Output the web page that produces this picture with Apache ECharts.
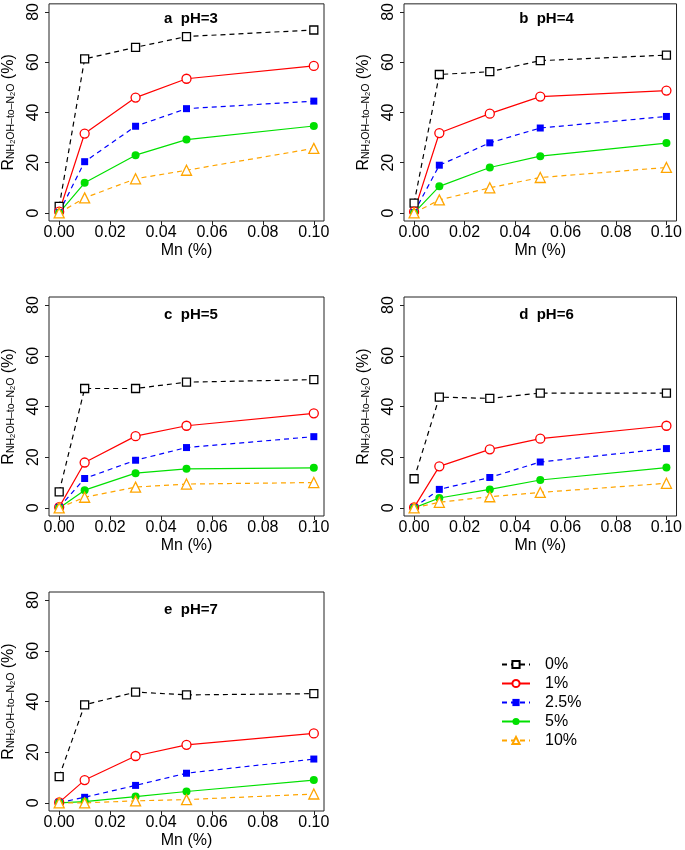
<!DOCTYPE html>
<html>
<head>
<meta charset="utf-8">
<script src="https://cdn.jsdelivr.net/npm/echarts@6/dist/echarts.min.js"></script>
<style>html,body{margin:0;padding:0;background:#fff}#c{width:685px;height:850px}</style>
</head>
<body>
<div id="c"></div>
<script>
// Mn levels (x values)
const mnLevels = [0, 0.01, 0.03, 0.05, 0.10];
const seriesNames = ['0%', '1%', '2.5%', '5%', '10%'];
const xTicks = [0, 0.02, 0.04, 0.06, 0.08, 0.10];
const yTicks = [0, 20, 40, 60, 80];
const panelTitles = ['a  pH=3', 'b  pH=4', 'c  pH=5', 'd  pH=6', 'e  pH=7'];

// Rows follow seriesNames order: 0%, 1%, 2.5%, 5%, 10%
const pH3 = [
  [2.6, 61.3, 65.9, 70.2, 72.8],
  [0.5, 31.6, 45.9, 53.4, 58.5],
  [0.2, 20.4, 34.5, 41.5, 44.5],
  [0.0, 12.0, 23.0, 29.2, 34.6],
  [0.0, 6.0, 13.6, 17.0, 25.7]
];
const pH4 = [
  [3.9, 55.1, 56.2, 60.6, 62.8],
  [0.5, 31.8, 39.5, 46.3, 48.7],
  [0.2, 19.0, 27.9, 33.8, 38.4],
  [0.0, 10.6, 18.1, 22.6, 27.8],
  [0.0, 5.2, 10.0, 14.1, 18.1]
];
const pH5 = [
  [6.3, 47.1, 47.1, 49.6, 50.6],
  [0.3, 17.9, 28.3, 32.4, 37.3],
  [0.2, 11.6, 18.8, 23.8, 28.1],
  [0.0, 7.0, 13.7, 15.4, 15.8],
  [0.0, 4.2, 8.2, 9.4, 10.0]
];
const pH6 = [
  [11.5, 43.7, 43.2, 45.3, 45.3],
  [0.2, 16.4, 23.1, 27.3, 32.4],
  [0.1, 7.3, 12.0, 18.1, 23.4],
  [0.0, 3.9, 7.3, 11.0, 15.9],
  [0.0, 2.2, 4.4, 6.1, 9.7]
];
const pH7 = [
  [10.4, 38.7, 43.7, 42.6, 43.1],
  [0.2, 9.0, 18.5, 22.9, 27.4],
  [0.1, 2.2, 6.9, 11.7, 17.3],
  [0.0, 0.5, 2.5, 4.5, 9.0],
  [0.0, 0.0, 0.8, 1.3, 3.5]
];
const panels = [pH3, pH4, pH5, pH6, pH7];

const FONT = '"Liberation Sans", Arial, sans-serif';
const grids = [
  {left: 48, top: 1, width: 276, height: 220},
  {left: 404, top: 1, width: 275, height: 220},
  {left: 48, top: 297, width: 276, height: 219},
  {left: 404, top: 297, width: 275, height: 219},
  {left: 48, top: 592, width: 276, height: 219}
];
const styles = [
  {color: '#000000', type: [5, 4], symbol: 'rect', size: 8, fill: '#ffffff'},
  {color: '#ff0000', type: 'solid', symbol: 'circle', size: 9, fill: '#ffffff'},
  {color: '#0000ff', type: [5, 4], symbol: 'rect', size: 7, fill: null},
  {color: '#00e000', type: 'solid', symbol: 'circle', size: 8, fill: null},
  {color: '#ffa500', type: [5, 4], symbol: 'triangle', size: 10, fill: '#ffffff'}
];

const option = {
  animation: false,
  backgroundColor: '#fff',
  textStyle: {fontFamily: FONT},
  title: grids.map((g, i) => ({
    text: panelTitles[i],
    left: g.left + g.width / 2,
    top: g.top + 5,
    textAlign: 'center',
    textStyle: {fontFamily: FONT, fontSize: 15, fontWeight: 'bold', color: '#000'}
  })),
  grid: grids.map(g => Object.assign({show: true, borderColor: '#222', borderWidth: 1, containLabel: false}, g)),
  legend: {
    orient: 'vertical',
    left: 501,
    top: 655,
    padding: 0,
    itemGap: 0,
    itemWidth: 28,
    itemHeight: 9,
    data: seriesNames,
    textStyle: {fontFamily: FONT, fontSize: 16, color: '#000', lineHeight: 19, padding: [0, 0, 0, 10]}
  },
  xAxis: grids.map((g, i) => ({
    type: 'value', gridIndex: i, min: -0.004, max: 0.104,
    name: 'Mn (%)', nameLocation: 'middle', nameGap: 22,
    nameTextStyle: {fontFamily: FONT, fontSize: 16, color: '#000'},
    axisLine: {show: false, onZero: false},
    splitLine: {show: false},
    axisTick: {show: true, length: 4, customValues: xTicks, lineStyle: {color: '#222'}},
    axisLabel: {customValues: xTicks, formatter: v => v.toFixed(2), margin: 4,
      fontFamily: FONT, fontSize: 16, color: '#000'}
  })),
  yAxis: grids.map((g, i) => ({
    type: 'value', gridIndex: i, min: -3.2, max: 83.2,
    name: '{r|R}{s|NH}{t|2}{s|OH–to–N}{t|2}{s|O}{r| (%)}',
    nameLocation: 'middle', nameGap: 32, nameRotate: 90,
    nameTextStyle: {fontFamily: FONT, color: '#000',
      rich: {
        r: {fontFamily: FONT, fontSize: 16, lineHeight: 18, verticalAlign: 'bottom', color: '#000'},
        s: {fontFamily: FONT, fontSize: 10.5, lineHeight: 10, verticalAlign: 'bottom', color: '#000'},
        t: {fontFamily: FONT, fontSize: 7.5, lineHeight: 6, verticalAlign: 'bottom', color: '#000'}
      }},
    axisLine: {show: false, onZero: false},
    splitLine: {show: false},
    axisTick: {show: true, length: 4, customValues: yTicks, lineStyle: {color: '#222'}},
    axisLabel: {customValues: yTicks, rotate: 90, margin: 7,
      fontFamily: FONT, fontSize: 16, color: '#000'}
  })),
  series: []
};

panels.forEach((rows, p) => {
  rows.forEach((vals, s) => {
    const st = styles[s];
    option.series.push({
      type: 'line',
      name: seriesNames[s],
      xAxisIndex: p, yAxisIndex: p,
      data: mnLevels.map((x, k) => [x, vals[k]]),
      symbol: st.symbol,
      symbolSize: st.size,
      showAllSymbol: true,
      lineStyle: {color: st.color, width: 1.2, type: st.type},
      itemStyle: st.fill ? {color: st.fill, borderColor: st.color, borderWidth: 1.3}
                         : {color: st.color, borderColor: st.color, borderWidth: 0},
      emphasis: {disabled: true}
    });
  });
});

const chart = echarts.init(document.getElementById('c'), null, {renderer: 'canvas'});
chart.setOption(option);
</script>
</body>
</html>
